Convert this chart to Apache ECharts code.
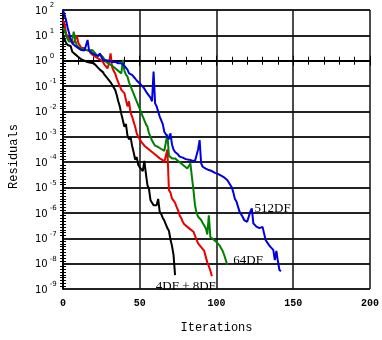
<!DOCTYPE html>
<html>
<head>
<meta charset="utf-8">
<script src="https://cdn.jsdelivr.net/npm/echarts@6/dist/echarts.min.js"></script>
<style>
html,body{margin:0;padding:0;background:#fff;}
#chart{width:382px;height:340px;}
</style>
</head>
<body>
<div id="chart"></div>
<script>
// Residual histories, stored as log10(residual); array index = iteration number
const res4DF = [1.0,0.95,0.7,0.62,0.55,0.58,0.35,0.4,0.25,0.3,0.15,0.18,0.05,0.08,0.0,0.02,-0.05,-0.03,-0.08,-0.12,
  -0.1,-0.15,-0.22,-0.28,-0.35,-0.4,-0.45,-0.55,-0.6,-0.7,-0.76,-0.85,-0.95,-1.05,-1.15,-1.35,-1.6,-1.8,-2.1,-2.35,
  -2.6,-2.5,-2.95,-3.1,-3.0,-3.35,-3.6,-3.9,-3.8,-4.1,-4.2,-4.15,-4.35,-3.95,-4.45,-4.9,-5.05,-5.5,-5.6,-5.7,
  -5.75,-5.7,-5.45,-5.95,-6.05,-6.2,-6.3,-6.45,-6.6,-6.7,-7.05,-7.3,-7.65,-8.45];
const res8DF = [1.6,1.45,1.08,0.95,0.88,0.8,0.75,0.7,0.85,1.0,0.7,0.6,0.5,0.45,0.5,0.42,0.45,0.4,0.3,0.25,
  0.2,0.16,0.12,0.1,0.05,0.03,-0.05,-0.15,-0.2,-0.3,-0.1,0.29,-0.25,-0.4,-0.5,-0.7,-0.85,-1.0,-1.15,-1.2,
  -1.28,-1.35,-1.8,-1.6,-2.05,-2.2,-2.4,-2.6,-2.85,-3.0,-3.1,-3.2,-3.26,-3.35,-3.4,-3.45,-3.52,-3.55,-3.6,-3.65,
  -3.68,-3.75,-3.8,-3.85,-3.9,-3.92,-4.0,-4.05,-3.5,-5.1,-5.2,-5.43,-5.5,-5.6,-5.76,-5.9,-6.1,-6.2,-6.35,-6.45,
  -6.48,-6.55,-6.6,-6.65,-6.7,-6.74,-6.9,-7.05,-7.2,-7.25,-7.35,-7.4,-7.5,-7.55,-7.95,-8.1,-8.28,-8.5];
const res64DF = [1.3,1.2,1.0,0.85,0.75,0.7,0.8,1.15,0.8,0.6,0.55,0.5,0.48,0.45,0.45,0.42,0.42,0.4,0.42,0.42,
  0.35,0.3,0.2,0.2,0.25,0.29,0.15,0.05,-0.05,-0.1,-0.12,-0.15,-0.2,-0.24,-0.3,-0.35,-0.4,-0.45,-0.5,0.03,
  -0.4,-0.55,-0.63,-0.85,-1.0,-1.15,-1.3,-1.45,-1.6,-1.75,-1.9,-2.05,-2.2,-2.35,-2.5,-2.6,-2.85,-3.0,-3.15,-3.25,
  -3.35,-3.38,-3.4,-3.45,-3.48,-3.52,-3.55,-3.6,-2.9,-3.75,-3.8,-3.85,-3.82,-3.85,-3.88,-3.95,-4.0,-4.05,-4.1,-4.15,
  -4.2,-4.25,-4.3,-4.05,-4.6,-5.1,-5.7,-6.0,-6.15,-6.2,-6.28,-6.4,-6.5,-6.6,-6.85,-6.1,-6.95,-7.0,-7.05,-7.07,
  -7.15,-7.2,-7.28,-7.33,-7.5,-7.66,-7.85,-8.05];
const res512DF = [2.0,1.93,1.6,1.3,1.08,0.85,0.69,0.62,0.58,0.55,0.5,0.48,0.42,0.45,0.4,0.45,0.82,0.4,0.35,0.3,
  0.28,0.23,0.2,0.18,0.29,0.15,0.03,0.05,0.02,0.03,0.0,-0.02,-0.05,-0.1,-0.04,-0.08,-0.1,-0.08,-0.1,-0.15,
  -0.2,-0.24,-0.35,-0.5,-0.45,-0.56,-0.6,-0.7,-0.78,-0.83,-0.9,-0.95,-1.02,-1.1,-1.2,-1.3,-1.35,-1.45,-1.6,-0.43,
  -1.68,-1.8,-2.0,-2.2,-2.35,-2.5,-2.8,-2.9,-3.0,-3.1,-2.86,-3.3,-3.5,-3.6,-3.65,-3.7,-3.78,-3.8,-3.82,-3.85,
  -3.88,-3.9,-3.9,-3.91,-3.93,-3.95,-3.95,-3.98,-3.5,-3.13,-4.05,-4.18,-4.2,-4.25,-4.28,-4.31,-4.33,-4.35,-4.4,-4.42,
  -4.44,-4.46,-4.5,-4.53,-4.57,-4.6,-4.57,-4.7,-4.8,-4.9,-5.0,-5.2,-5.45,-5.55,-5.62,-5.95,-6.0,-6.15,-6.28,-6.3,
  -6.35,-6.3,-5.95,-5.82,-6.41,-6.45,-6.54,-6.55,-6.6,-6.61,-6.55,-6.5,-7.07,-7.1,-7.25,-7.33,-7.4,-7.46,-7.86,-7.5,
  -7.9,-8.25,-8.3];
const xTicks = [0, 50, 100, 150, 200];
const yExponents = [-9,-8,-7,-6,-5,-4,-3,-2,-1,0,1,2];
const seriesNames = ['4DF', '8DF', '64DF', '512DF'];
const seriesColors = ['#000000', '#e80000', '#008000', '#0000e0'];

const toPairs = arr => arr.map((v, i) => [i, v]);
const allRes = [res4DF, res8DF, res64DF, res512DF];

const chart = echarts.init(document.getElementById('chart'), null, {renderer: 'canvas'});

const annot = (coord, text) => ({
  coord: coord, symbolSize: 0,
  label: {show: true, position: 'inside', formatter: text, color: '#000',
    fontFamily: 'Liberation Serif', fontSize: 13}
});

const series = allRes.map((arr, k) => ({
  name: seriesNames[k], type: 'line', data: toPairs(arr),
  showSymbol: false, symbol: 'none', animation: false, z: 3 + k,
  lineStyle: {color: seriesColors[k], width: 2},
  itemStyle: {color: seriesColors[k]}
}));
series[1].markPoint = {symbol: 'circle', data: [annot([80, -8.9], '4DF + 8DF')], animation: false};
series[2].markPoint = {symbol: 'circle', data: [annot([120.6, -7.86], '64DF')], animation: false};
series[3].markPoint = {symbol: 'circle', data: [annot([136.6, -5.81], '512DF')], animation: false};

chart.setOption({
  animation: false,
  backgroundColor: '#ffffff',
  grid: {left: 60, right: 9, top: 10, bottom: 51},
  xAxis: [{
    type: 'value', min: 0, max: 200, interval: 50, position: 'bottom',
    name: 'Iterations', nameLocation: 'middle', nameGap: 33,
    nameTextStyle: {fontFamily: 'Liberation Mono', fontSize: 12, color: '#000'},
    axisLine: {show: true, lineStyle: {color: '#000', width: 1.5}},
    axisTick: {show: true, inside: true, length: 5, lineStyle: {color: '#000'}},
    minorTick: {show: true, splitNumber: 5, length: 4, lineStyle: {color: '#000'}},
    axisLabel: {margin: 9, fontFamily: 'Liberation Mono', fontWeight: 'bold', fontSize: 10, color: '#000',
      formatter: v => xTicks.includes(v) ? String(v) : ''},
    splitLine: {show: true, lineStyle: {color: '#111', width: 1.5}}
  }, {
    type: 'value', min: 0, max: 200, interval: 50, position: 'top',
    axisLine: {show: true, lineStyle: {color: '#000', width: 1.5}},
    axisTick: {show: true, inside: true, length: 5, lineStyle: {color: '#000'}},
    minorTick: {show: true, splitNumber: 5, length: 4, lineStyle: {color: '#000'}},
    axisLabel: {show: false}, splitLine: {show: false}
  }],
  yAxis: [{
    type: 'value', min: -9, max: 2, interval: 1, position: 'left',
    name: 'Residuals', nameLocation: 'middle', nameGap: 43, nameRotate: 90,
    nameTextStyle: {fontFamily: 'Liberation Mono', fontSize: 12, color: '#000', padding: [0, 14, 0, 0]},
    axisLine: {show: true, lineStyle: {color: '#000', width: 1.5}},
    axisTick: {show: false},
    minorTick: {show: true, splitNumber: 9, length: 3, lineStyle: {color: '#000'}},
    axisLabel: {
      margin: 28, align: 'left',
      formatter: v => yExponents.includes(v) ? '{b|10}{e|' + v + '}' : '',
      rich: {
        b: {fontFamily: 'DejaVu Sans', fontSize: 10, color: '#000', lineHeight: 12, verticalAlign: 'bottom'},
        e: {fontFamily: 'DejaVu Sans', fontSize: 7, color: '#000', lineHeight: 7, padding: [0, 0, 7, 2], verticalAlign: 'bottom'}
      }
    },
    splitLine: {show: true, lineStyle: {color: '#222', width: 2}}
  }, {
    type: 'value', min: -9, max: 2, interval: 1, position: 'right',
    axisLine: {show: true, lineStyle: {color: '#000', width: 1.5}},
    axisTick: {show: false},
    minorTick: {show: true, splitNumber: 9, length: 3, lineStyle: {color: '#000'}},
    axisLabel: {show: false}, splitLine: {show: false}
  }],
  series: series
});
</script>
</body>
</html>
